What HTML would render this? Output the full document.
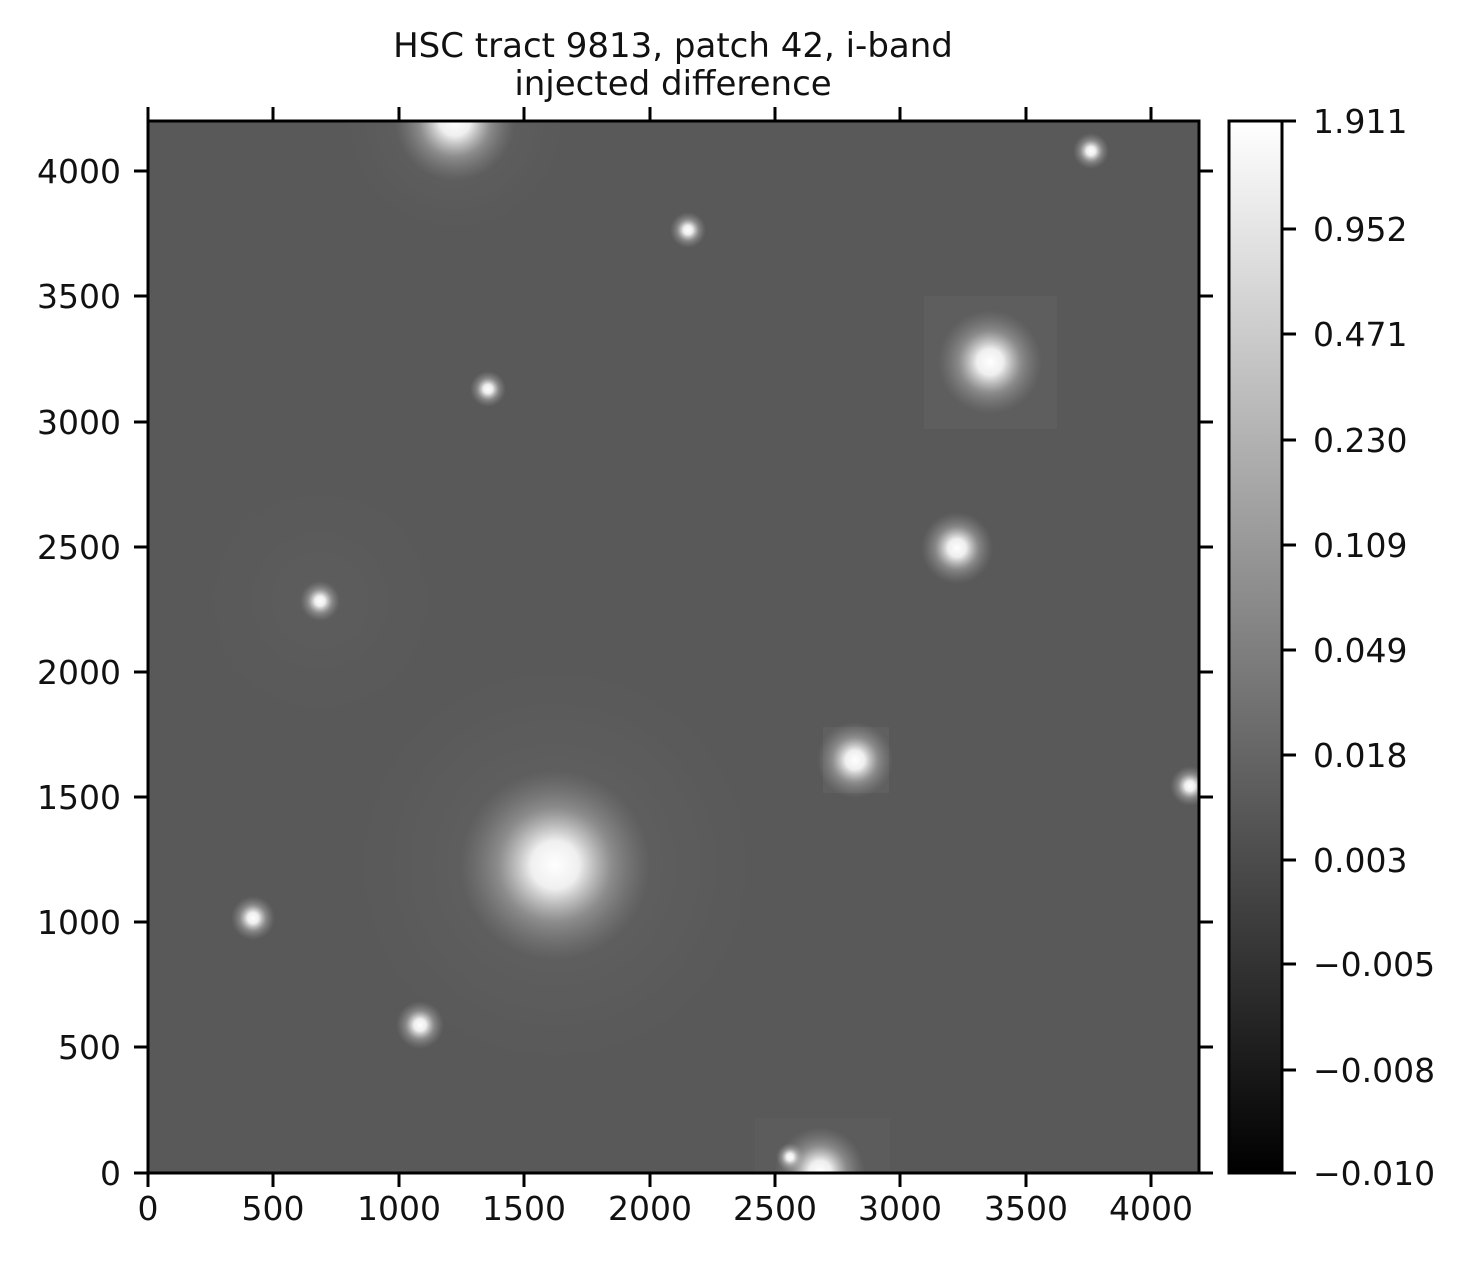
<!DOCTYPE html>
<html><head><style>
body{margin:0;background:#fff;}
svg text{font-family:"DejaVu Sans","Liberation Sans",sans-serif;font-size:33px;fill:#111;}
</style></head><body>
<svg width="1470" height="1266" xmlns="http://www.w3.org/2000/svg">
<defs>
<radialGradient id="g"><stop offset="0" stop-color="#fff" stop-opacity="1"/><stop offset="0.25" stop-color="#fff" stop-opacity="0.9"/><stop offset="0.6" stop-color="#ddd" stop-opacity="0.35"/><stop offset="1" stop-color="#aaa" stop-opacity="0"/></radialGradient>
<radialGradient id="h"><stop offset="0" stop-color="#888" stop-opacity="0.5"/><stop offset="1" stop-color="#777" stop-opacity="0"/></radialGradient>
<linearGradient id="cb" x1="0" y1="1" x2="0" y2="0"><stop offset="0" stop-color="#000"/><stop offset="1" stop-color="#fff"/></linearGradient>
<clipPath id="c"><rect x="148" y="121" width="1051" height="1052"/></clipPath>
</defs>
<text x="673" y="57" text-anchor="middle" style="font-size:34px">HSC tract 9813, patch 42, i-band</text>
<text x="673" y="95" text-anchor="middle" style="font-size:34px">injected difference</text>
<g clip-path="url(#c)">
<rect x="148" y="121" width="1051" height="1052" fill="#595959"/>
<rect x="924" y="296" width="133" height="133" fill="#5e5e5e"/>
<rect x="823" y="727" width="66" height="66" fill="#606060"/>
<rect x="755" y="1118" width="135" height="55" fill="#5c5c5c"/>
<circle cx="555" cy="865" r="200" fill="url(#h)" opacity="0.5"/>
<circle cx="320" cy="601" r="120" fill="url(#h)" opacity="0.2"/>
<circle cx="455" cy="121" r="110" fill="url(#h)" opacity="0.5"/>
<circle cx="455" cy="121" r="60" fill="url(#g)"/>
<circle cx="1091" cy="151" r="18" fill="url(#g)"/>
<circle cx="688" cy="230" r="18" fill="url(#g)"/>
<circle cx="990" cy="362" r="52" fill="url(#g)"/>
<circle cx="488" cy="389" r="18" fill="url(#g)"/>
<circle cx="957" cy="548" r="36" fill="url(#g)"/>
<circle cx="320" cy="601" r="20" fill="url(#g)"/>
<circle cx="855" cy="760" r="38" fill="url(#g)"/>
<circle cx="1190" cy="786" r="20" fill="url(#g)"/>
<circle cx="555" cy="865" r="95" fill="url(#g)"/>
<circle cx="253" cy="918" r="22" fill="url(#g)"/>
<circle cx="420" cy="1025" r="24" fill="url(#g)"/>
<circle cx="820" cy="1172" r="45" fill="url(#g)"/>
<circle cx="790" cy="1157" r="14" fill="url(#g)"/>
</g>
<rect x="148" y="121" width="1051" height="1052" fill="none" stroke="#000" stroke-width="3"/>
<g stroke="#000" stroke-width="3">
<path d="M148 1173v14M273 1173v14M399 1173v14M524 1173v14M650 1173v14M775 1173v14M900 1173v14M1026 1173v14M1151 1173v14"/>
<path d="M148 121v-14M273 121v-14M399 121v-14M524 121v-14M650 121v-14M775 121v-14M900 121v-14M1026 121v-14M1151 121v-14"/>
<path d="M148 1173h-14M148 1047h-14M148 922h-14M148 797h-14M148 672h-14M148 547h-14M148 422h-14M148 296h-14M148 171h-14"/>
<path d="M1199 1173h14M1199 1047h14M1199 922h14M1199 797h14M1199 672h14M1199 547h14M1199 422h14M1199 296h14M1199 171h14"/>
</g>
<g text-anchor="middle">
<text x="148" y="1220">0</text><text x="273" y="1220">500</text><text x="399" y="1220">1000</text><text x="524" y="1220">1500</text><text x="650" y="1220">2000</text><text x="775" y="1220">2500</text><text x="900" y="1220">3000</text><text x="1026" y="1220">3500</text><text x="1151" y="1220">4000</text>
</g>
<g text-anchor="end">
<text x="121" y="1185">0</text><text x="121" y="1059">500</text><text x="121" y="934">1000</text><text x="121" y="809">1500</text><text x="121" y="684">2000</text><text x="121" y="559">2500</text><text x="121" y="434">3000</text><text x="121" y="308">3500</text><text x="121" y="183">4000</text>
</g>
<rect x="1229" y="121" width="53" height="1052" fill="url(#cb)" stroke="#000" stroke-width="3"/>
<g stroke="#000" stroke-width="3">
<path d="M1282 121h14M1282 229h14M1282 334h14M1282 440h14M1282 545h14M1282 650h14M1282 755h14M1282 860h14M1282 964h14M1282 1070h14M1282 1173h14"/>
</g>
<g>
<text x="1313" y="133">1.911</text><text x="1313" y="241">0.952</text><text x="1313" y="346">0.471</text><text x="1313" y="452">0.230</text><text x="1313" y="557">0.109</text><text x="1313" y="662">0.049</text><text x="1313" y="767">0.018</text><text x="1313" y="872">0.003</text><text x="1313" y="976">−0.005</text><text x="1313" y="1082">−0.008</text><text x="1313" y="1185">−0.010</text>
</g>
</svg>
</body></html>
